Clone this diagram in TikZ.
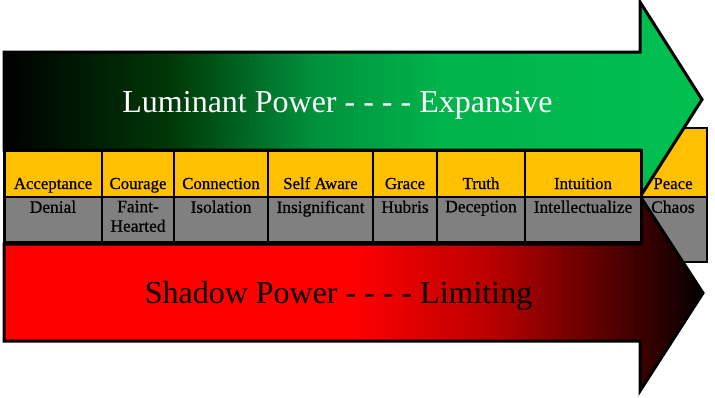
\documentclass[tikz,border=0pt]{standalone}
\usepackage{fontspec}
\setmainfont{Liberation Serif}
\newfontfamily\tabfont[FakeBold=0.7]{Liberation Serif}
\definecolor{lumgreen}{RGB}{0,192,80}
\definecolor{yel}{RGB}{255,192,0}
\definecolor{gry}{RGB}{128,128,128}
\pgfdeclarehorizontalshading{greenshade}{100bp}{color(0bp)=(black); color(25bp)=(black); color(37bp)=(black!65!lumgreen!60!green!40!black); color(47bp)=(lumgreen!75!black); color(56bp)=(lumgreen!93!black); color(75bp)=(lumgreen); color(100bp)=(lumgreen)}
\pgfdeclarehorizontalshading{redshade}{100bp}{color(0bp)=(red); color(25bp)=(red); color(50bp)=(red); color(60bp)=(red!72!black); color(73bp)=(red!12!black); color(75bp)=(black); color(100bp)=(black)}
\tikzset{
  arrowline/.style={draw=black, line width=3pt, line join=miter},
  cellY/.style={fill=yel, draw=black, line width=2pt},
  cellG/.style={fill=gry, draw=black, line width=2pt},
  thincell/.style={draw=black, line width=1.5pt},
  ttext/.style={font=\tabfont\fontsize{16.8}{18}\selectfont, anchor=base, inner sep=0pt},
  gtext/.style={font=\tabfont\fontsize{17.4}{19.5}\selectfont, anchor=north, inner sep=0pt, align=center},
  bigtext/.style={font=\fontsize{32}{36}\selectfont, anchor=base, inner sep=0pt}
}
\begin{document}
\begin{tikzpicture}[x=1pt,y=-1pt]
\useasboundingbox (0,0) rectangle (715,397);
% Peace / Chaos column (behind arrows)
\path[fill=yel, thincell] (641,128) rectangle (707,197);
\path[fill=gry, thincell] (641,197) rectangle (707,262);
% top arrow
\path[arrowline, shading=greenshade]
  (4,52) -- (640,52) -- (640,2) -- (702,99.5) -- (640,197) -- (640,150) -- (4,150) -- cycle;
% bottom arrow
\path[arrowline, shading=redshade]
  (4,244) -- (640,244) -- (640,196) -- (703,293) -- (640,391) -- (640,341) -- (4,341) -- cycle;
% main table
\foreach \a/\b in {4/102,102/174,174/268,268/373,373/437,437/525,525/641}{
  \path[cellY] (\a,150) rectangle (\b,197);
  \path[cellG] (\a,197) rectangle (\b,242);
}
\draw[line width=3pt] (4,150) rectangle (641,242);
% texts
\node[ttext] (t1) at (53,189) {Acceptance};
\node[ttext] (t2) at (138,189) {Courage};
\node[ttext] (t3) at (221,189) {Connection};
\node[ttext] (t4) at (320.5,189) {Self Aware};
\node[ttext] (t5) at (405,189) {Grace};
\node[ttext] (t6) at (481,189) {Truth};
\node[ttext] (t7) at (583,189) {Intuition};
\node[ttext] (t8) at (673,189) {Peace};
\node[gtext] (s1) at (53,200.5) {Denial};
\node[gtext] (s2) at (138,200.5) {Faint-\\Hearted};
\node[gtext] (s3) at (221,200.5) {Isolation};
\node[gtext] (s4) at (320.5,200.5) {Insignificant};
\node[gtext] (s5) at (405,200.5) {Hubris};
\node[gtext] (s6) at (481,200.5) {Deception};
\node[gtext] (s7) at (583,200.5) {Intellectualize};
\node[gtext] (s8) at (673,200.5) {Chaos};
\node[bigtext, text=white] (lum) at (337.5,112) {Luminant Power - - - - Expansive};
\node[bigtext, text=black] (sha) at (338.5,303) {Shadow Power - - - - Limiting};
\end{tikzpicture}
\end{document}
